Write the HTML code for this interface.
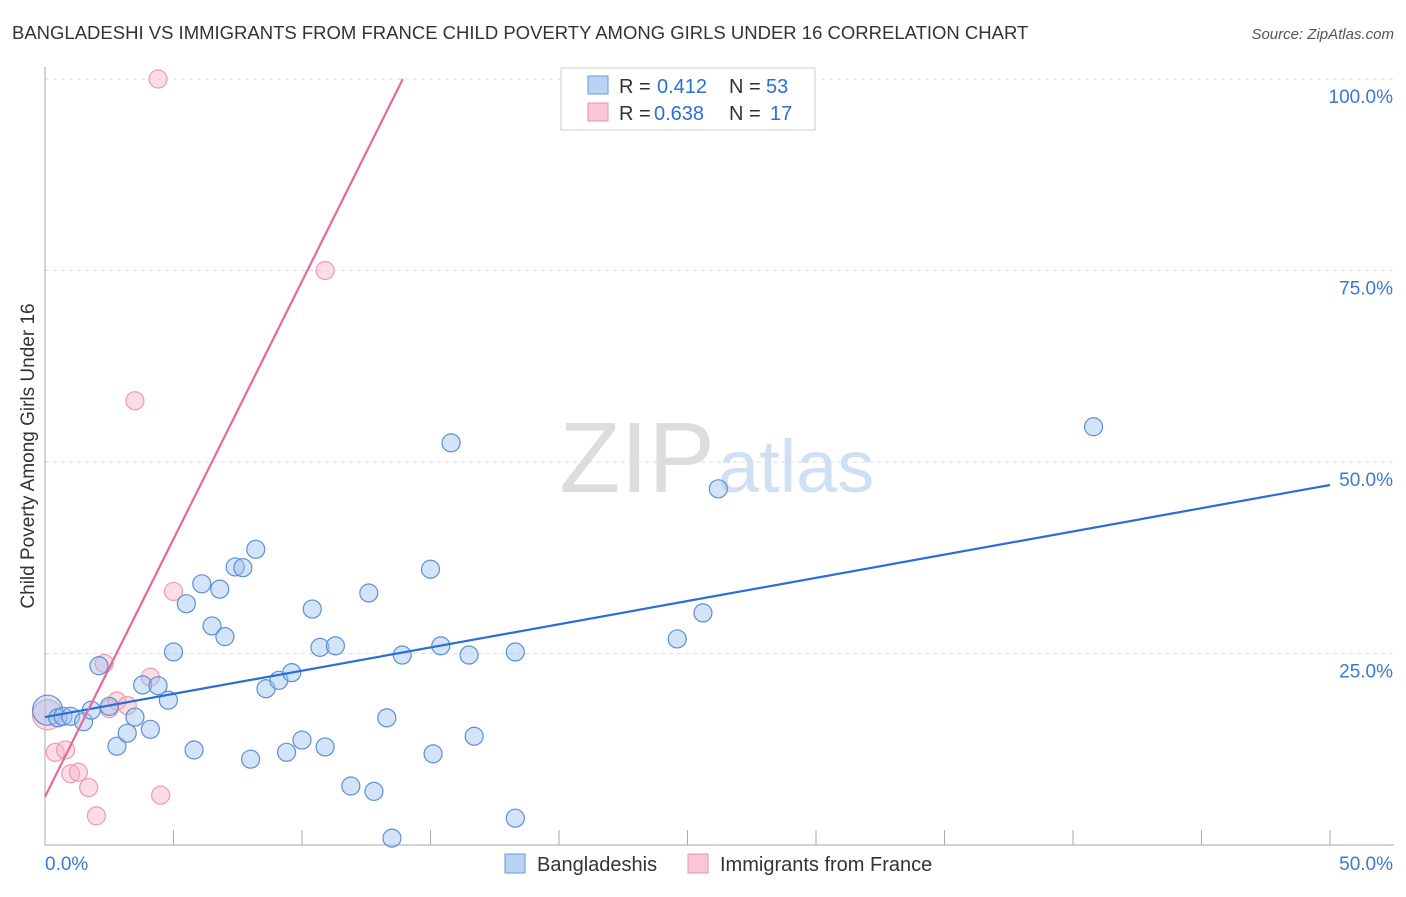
<!DOCTYPE html>
<html><head><meta charset="utf-8"><style>
body{margin:0;background:#fff;font-family:"Liberation Sans",sans-serif;}
svg text{font-family:"Liberation Sans",sans-serif;}
</style></head><body>
<svg id="c" width="1406" height="892">
<text x="12" y="39" font-size="18.5" fill="#333">BANGLADESHI VS IMMIGRANTS FROM FRANCE CHILD POVERTY AMONG GIRLS UNDER 16 CORRELATION CHART</text>
<text x="1394" y="39" font-size="15" fill="#555" text-anchor="end" font-style="italic">Source: ZipAtlas.com</text>
<text x="715" y="492" font-size="100" fill="#ddd" text-anchor="end" font-family="Liberation Serif">ZIP</text>
<text x="718" y="492" font-size="74" fill="#cfe0f3">atlas</text>
<text transform="translate(34,456) rotate(-90)" font-size="19" fill="#333" text-anchor="middle">Child Poverty Among Girls Under 16</text>
<g id="grid"></g><g id="marks"></g>
<g>
<rect x="561" y="68" width="254" height="62" fill="#fff" stroke="#ccc"/>
<rect x="588" y="76" width="20" height="18" fill="#b8d3f5" stroke="#6a9ad8"/>
<text x="619" y="93" font-size="20" fill="#333">R =</text>
<text x="657" y="93" font-size="20" fill="#2a6fd6">0.412</text>
<text x="729" y="93" font-size="20" fill="#333">N =</text>
<text x="766" y="93" font-size="20" fill="#2a6fd6">53</text>
<rect x="588" y="103" width="20" height="18" fill="#f9c6d5" stroke="#e890ac"/>
<text x="619" y="120" font-size="20" fill="#333">R =</text>
<text x="654" y="120" font-size="20" fill="#2a6fd6">0.638</text>
<text x="729" y="120" font-size="20" fill="#333">N =</text>
<text x="770" y="120" font-size="20" fill="#2a6fd6">17</text>
</g>
<g>
<rect x="505" y="854" width="20" height="19" fill="#b8d3f5" stroke="#6a9ad8"/>
<text x="537" y="871" font-size="20" fill="#333">Bangladeshis</text>
<rect x="688" y="854" width="20" height="19" fill="#f9c6d5" stroke="#e890ac"/>
<text x="720" y="871" font-size="20" fill="#333">Immigrants from France</text>
</g>
</svg>
<script>
const blueX=[0.1,0.5,0.7,1.0,1.5,1.8,2.1,2.5,2.8,3.2,3.5,3.8,4.1,4.4,4.8,5.0,5.5,5.8,6.1,6.5,6.8,7.0,7.4,7.7,8.0,8.2,8.6,9.1,9.4,9.6,10.0,10.4,10.7,10.9,11.3,11.9,12.6,12.8,13.3,13.5,13.9,15.0,15.1,15.4,15.8,16.5,16.7,18.3,18.3,24.6,25.6,26.2,40.8];
const blueY=[17.6,16.6,16.8,16.8,16.1,17.6,23.4,18.1,12.9,14.6,16.7,20.9,15.1,20.8,18.9,25.2,31.5,12.4,34.1,28.6,33.4,27.2,36.3,36.2,11.2,38.6,20.4,21.5,12.1,22.5,13.7,30.8,25.8,12.8,26.0,7.7,32.9,7.0,16.6,0.9,24.8,36.0,11.9,26.0,52.5,24.8,14.2,25.2,3.5,26.9,30.3,46.5,54.6];
const pinkX=[0.1,0.4,0.8,1.0,1.3,1.7,2.0,2.3,2.5,2.8,3.2,3.5,4.1,4.4,4.5,5.0,10.9];
const pinkY=[17.0,12.1,12.4,9.3,9.5,7.5,3.8,23.7,17.8,18.8,18.2,58.0,21.9,100,6.5,33.1,75.0];
const blueLine=[16.7,47.0], pinkLine=[6.3,6.73];
const X=v=>45+v*25.7, Y=v=>845-v*7.66;
const NS="http://www.w3.org/2000/svg";
const grid=document.getElementById('grid'), marks=document.getElementById('marks');
function mk(tag,at,par){const e=document.createElementNS(NS,tag);for(const k in at)e.setAttribute(k,at[k]);par.appendChild(e);return e;}
const yt=[25,50,75,100];
yt.forEach(t=>{const l=mk('line',{x1:45,x2:1394,y1:Y(t),y2:Y(t),stroke:'#ddd','stroke-dasharray':'4,4'},grid);


const tx=mk('text',{x:1393,y:Y(t)+24,'font-size':19,fill:'#3a78d4','text-anchor':'end'},grid);tx.textContent=t.toFixed(1)+'%';

});
mk('line',{x1:45,x2:45,y1:67,y2:845,stroke:'#aaa'},grid);
mk('line',{x1:45,x2:1394,y1:845,y2:845,stroke:'#aaa'},grid);
for(let i=0;i<=10;i++){mk('line',{x1:X(i*5),x2:X(i*5),y1:830,y2:845,stroke:'#aaa'},grid);}
const xl=[['0.0%',45,'start'],['50.0%',1393,'end']];
xl.forEach(a=>{const t=mk('text',{x:a[1],y:870,'font-size':19,fill:'#3a78d4','text-anchor':a[2]},grid);t.textContent=a[0];

});
function pts(xs,ys,fill,stroke,name){xs.forEach((x,i)=>{const big=i===0;const c=mk('circle',{cx:X(x),cy:Y(ys[i]),r:big?15:9,fill:fill,stroke:stroke,'stroke-width':1.2},marks);

});}
pts(pinkX,pinkY,'rgba(248,180,200,0.45)','#eb9ab3','france-point');
pts(blueX,blueY,'rgba(160,196,240,0.45)','#5b8fd6','bangladeshi-point');
const bl=mk('line',{x1:X(0),y1:Y(blueLine[0]),x2:X(50),y2:Y(blueLine[1]),stroke:'#2a6fd6','stroke-width':2.2},marks);


const xe=(100-pinkLine[0])/pinkLine[1];
const pl=mk('line',{x1:X(0),y1:Y(pinkLine[0]),x2:X(xe),y2:Y(100),stroke:'#e8689a','stroke-width':2.2},marks);


</script>
</body></html>
